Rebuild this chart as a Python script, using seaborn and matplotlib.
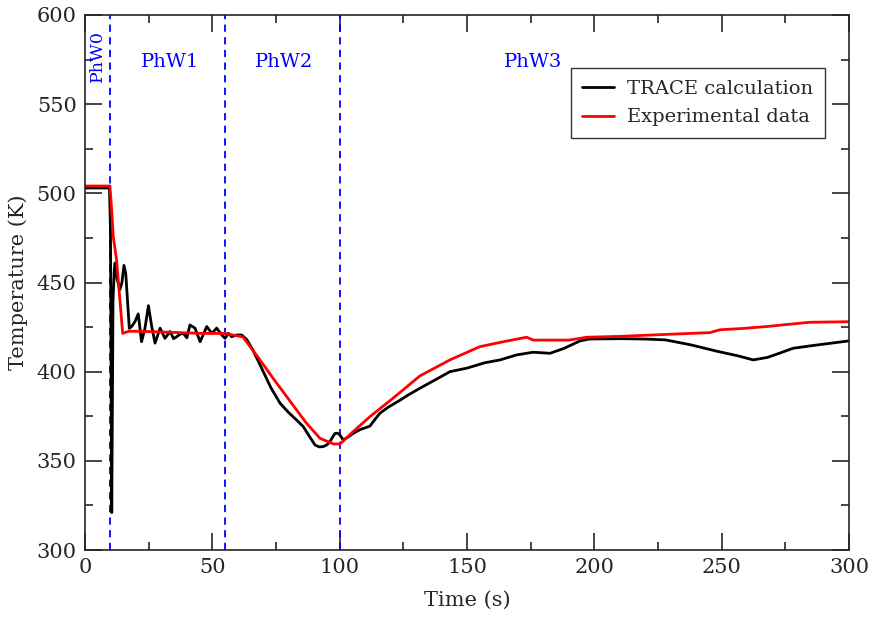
import matplotlib
matplotlib.use("Agg")
import matplotlib.pyplot as plt
import seaborn as sns
import pandas as pd
import numpy as np
from matplotlib.ticker import MultipleLocator

# TRACE calculation
trace_t = [0, 9.6, 10.0, 10.5, 11.0, 11.5, 11.8, 12.6, 13.7, 14.5, 15.3, 16.0, 17.4, 18.3, 19.6, 20.9, 22.2,
           23.5, 24.9, 26.2, 27.5, 29.5, 31.4, 33.4, 34.8, 36.0, 37.3, 38.6, 40.0, 41.2, 43.2, 45.2, 46.5,
           47.8, 49.8, 51.7, 53.7, 55.0, 56.3, 57.6, 59.6, 61.5, 63.5, 66.0, 70.0, 73.0, 76.6, 80.0, 83.0,
           85.7, 88.0, 90.3, 92.0, 93.6, 95.0, 96.2, 97.3, 98.2, 99.2, 100.1, 101.4, 103.5, 105.3, 108.0,
           110.0, 111.9, 113.2, 115.8, 119.0, 123.7, 127.0, 131.5, 137.0, 143.3, 150.0, 157.0, 163.0,
           169.5, 176.0, 182.6, 188.0, 194.3, 198.0, 210.0, 220.0, 228.0, 238.0, 248.0, 256.0, 262.4,
           268.0, 273.0, 278.0, 285.0, 292.0, 299.7]
trace_T = [503, 503, 480, 321, 440, 457, 461, 452, 446, 450, 459.6, 455, 424.3, 425.3, 428, 432.4, 416.8,
           424, 437, 425.3, 416, 424.4, 418.7, 422.5, 418.5, 419.6, 421, 421.5, 419, 426.2, 424.4, 416.8, 421,
           425.3, 421.5, 424.4, 420.6, 418.7, 421.5, 419.6, 420.6, 420.6, 418, 412, 400, 391, 382.3, 377, 373,
           369.2, 364, 358.9, 357.8, 358, 359, 360.8, 363.5, 365.4, 365.5, 364.5, 361.7, 363.5, 365.4, 367.5,
           368.5, 369.5, 372, 376.7, 380, 384, 387, 390.7, 395, 400, 402, 405, 406.6,
           409.4, 410.9, 410.3, 413, 417.2, 418.3, 418.5, 418.3, 417.8, 415, 411.5, 409, 406.6,
           408, 410.5, 413.1, 414.5, 415.8, 417.2]

# Experimental data
exp_t = [0, 9.8, 10.5, 11.1, 12.4, 13.6, 14.8, 17.3, 25.0, 35.0, 45.0, 55.0, 62.0, 68.7, 74.0, 79.2, 87.0,
         92.3, 97.5, 100.1, 105.0, 111.9, 120.0, 131.5, 143.3, 155.0, 165.0, 173.4, 176.0, 190.0, 197.0,
         210.0, 230.0, 245.4, 249.3, 258.0, 267.6, 276.0, 284.6, 300.0]
exp_T = [504.1, 504.1, 490, 475.7, 462.6, 442, 421.5, 422.7, 422.5, 422, 421.5, 421.4, 419.5, 406.6, 396, 386, 371,
         362.6, 359.5, 359.4, 366, 374.8, 384, 397.6, 406.6, 414, 417, 419.3, 417.7, 417.7, 419.3,
         419.8, 421, 421.9, 423.5, 424.2, 425.3, 426.5, 427.7, 428]

phase_x = [10, 55, 100]
phase_labels = ["PhW0", "PhW1", "PhW2", "PhW3"]

df = pd.concat([
    pd.DataFrame({"Time (s)": trace_t, "Temperature (K)": trace_T, "series": "TRACE calculation"}),
    pd.DataFrame({"Time (s)": exp_t, "Temperature (K)": exp_T, "series": "Experimental data"}),
], ignore_index=True)

sns.set_style("ticks")
plt.rcParams["font.family"] = ["DejaVu Serif"]

fig = plt.figure(figsize=(8.71, 6.18), dpi=100)
ax = fig.add_axes([85/871, 1-550/618, (849-85)/871, (550-15)/618])

sns.lineplot(data=df, x="Time (s)", y="Temperature (K)", hue="series",
             palette={"TRACE calculation": "black", "Experimental data": "#ff0000"},
             linewidth=2, ax=ax, sort=False, estimator=None)

for xv in phase_x:
    ax.axvline(xv, color="#0000ff", linestyle=(0, (4, 3)), linewidth=1.3, zorder=1)

ax.text(4.9, 577, phase_labels[0], rotation=90, color="#0000ff", fontsize=12.5, ha="center", va="center")
ax.text(33.4, 573.7, phase_labels[1], color="#0000ff", fontsize=14, ha="center", va="center")
ax.text(78, 573.7, phase_labels[2], color="#0000ff", fontsize=14, ha="center", va="center")
ax.text(176, 573.7, phase_labels[3], color="#0000ff", fontsize=14, ha="center", va="center")

ax.set_xlim(0, 300)
ax.set_ylim(300, 600)
ax.xaxis.set_major_locator(MultipleLocator(50))
ax.xaxis.set_minor_locator(MultipleLocator(25))
ax.yaxis.set_major_locator(MultipleLocator(50))
ax.yaxis.set_minor_locator(MultipleLocator(25))
ax.tick_params(which="both", direction="in", top=True, right=True, labelsize=15, width=1.2)
ax.tick_params(which="major", length=12, pad=6)
ax.tick_params(which="minor", length=6)
for s in ax.spines.values():
    s.set_linewidth(1.2)
ax.set_xlabel("Time (s)", fontsize=15, labelpad=10)
ax.set_ylabel("Temperature (K)", fontsize=15, labelpad=6)

leg = ax.legend(loc="upper right", bbox_to_anchor=(0.9686, 0.901), borderaxespad=0, fontsize=14,
                frameon=True, fancybox=False, edgecolor="black", handlelength=1.6,
                handletextpad=0.7, borderpad=0.6, labelspacing=0.55)
leg.get_frame().set_linewidth(1.0)
leg.set_title(None)

fig.savefig("out.png", dpi=100)
